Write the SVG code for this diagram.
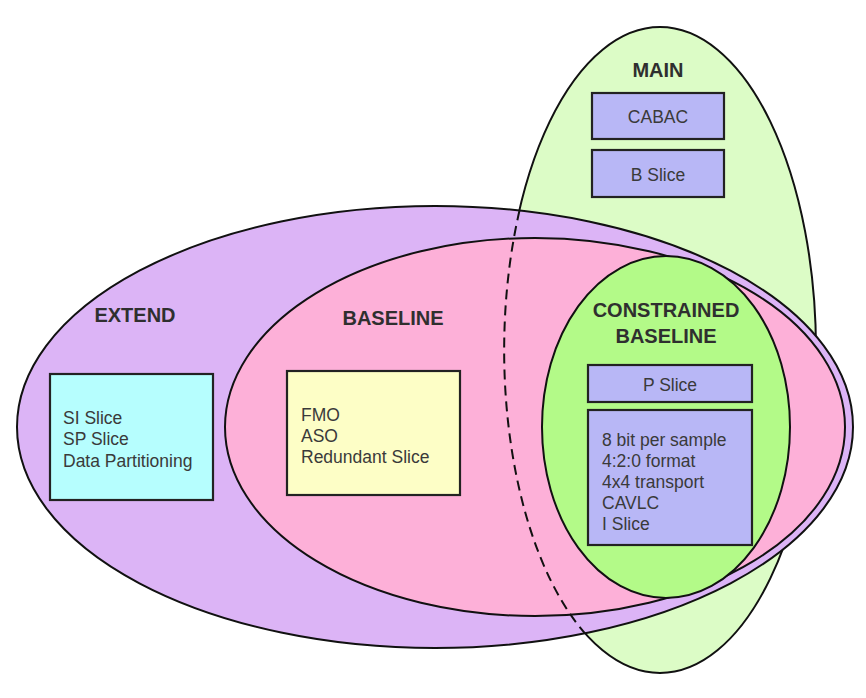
<svg xmlns="http://www.w3.org/2000/svg" width="866" height="698" viewBox="0 0 866 698">
<style>
.el{stroke:#111;stroke-width:2}
.box{stroke:#222;stroke-width:2.2}
.title{font-family:"Liberation Sans",Arial,sans-serif;font-size:20px;font-weight:bold;fill:#2f2f2f;text-anchor:middle}
.t{font-family:"Liberation Sans",Arial,sans-serif;font-size:17.5px;fill:#3a3a3a}
.tc{font-family:"Liberation Sans",Arial,sans-serif;font-size:17.5px;fill:#3a3a3a;text-anchor:middle}
</style>
<rect width="866" height="698" fill="#ffffff"/>
<g id="main">
<ellipse class="el" cx="660" cy="350" rx="156" ry="323" fill="#dcfcc6"/>
<text class="title" x="658" y="77">MAIN</text>
</g>
<g id="extend">
<ellipse class="el" cx="435" cy="427" rx="418" ry="221" fill="#dcb4f6"/>
<text class="title" x="135" y="322">EXTEND</text>
</g>
<g id="baseline">
<ellipse class="el" cx="535" cy="427" rx="310" ry="189" fill="#fdb0d8"/>
<text class="title" x="393" y="325">BASELINE</text>
</g>
<g id="connectors">
<path d="M 519.5 210.6 A 156 323 0 0 0 585 633.3" fill="none" stroke="#111" stroke-width="2" stroke-dasharray="10,6"/>
</g>
<g id="constrained">
<ellipse class="el" cx="666" cy="427" rx="124" ry="171" fill="#b3fa88"/>
<text class="title" x="666" y="317">CONSTRAINED</text>
<text class="title" x="666" y="343">BASELINE</text>
</g>
<g id="cabac">
<rect class="box" x="592" y="93" width="132" height="46" fill="#b8b7f6"/>
<text class="tc" x="658" y="123">CABAC</text>
</g>
<g id="bslice">
<rect class="box" x="592" y="150" width="132" height="47" fill="#b8b7f6"/>
<text class="tc" x="658" y="181">B Slice</text>
</g>
<g id="pslice">
<rect class="box" x="588" y="365" width="164" height="37" fill="#b8b7f6"/>
<text class="tc" x="670" y="391">P Slice</text>
</g>
<g id="cbfeatures">
<rect class="box" x="588" y="410" width="164" height="135" fill="#b8b7f6"/>
<text class="t" x="602" y="446">8 bit per sample</text>
<text class="t" x="602" y="467">4:2:0 format</text>
<text class="t" x="602" y="488">4x4 transport</text>
<text class="t" x="602" y="509">CAVLC</text>
<text class="t" x="602" y="530">I Slice</text>
</g>
<g id="extfeatures">
<rect class="box" x="50" y="374" width="163" height="126" fill="#b6fefe"/>
<text class="t" x="63" y="424">SI Slice</text>
<text class="t" x="63" y="445">SP Slice</text>
<text class="t" x="63" y="467">Data Partitioning</text>
</g>
<g id="basefeatures">
<rect class="box" x="287" y="371" width="173" height="124" fill="#fdfec6"/>
<text class="t" x="301" y="421">FMO</text>
<text class="t" x="301" y="442">ASO</text>
<text class="t" x="301" y="463">Redundant Slice</text>
</g>
</svg>
